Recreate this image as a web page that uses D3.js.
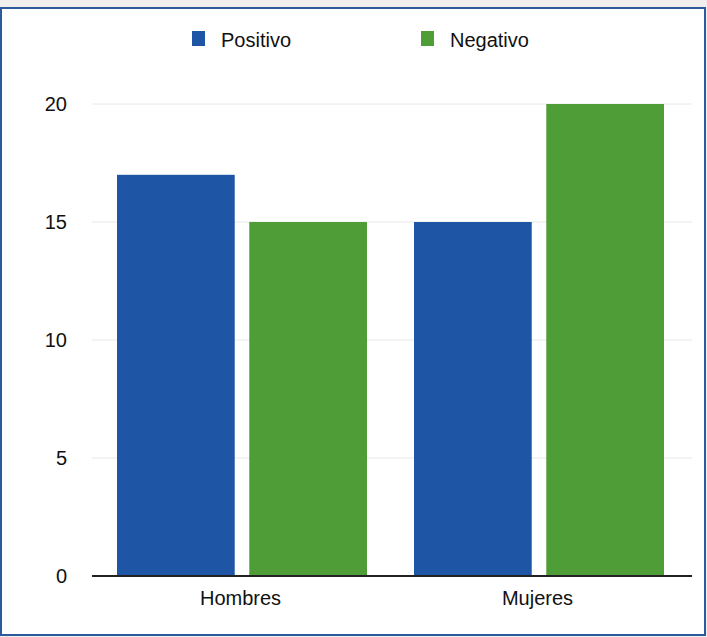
<!DOCTYPE html>
<html>
<head>
<meta charset="utf-8">
<script src="https://cdn.jsdelivr.net/npm/d3@7"></script>
<style>
  body { margin: 0; background: #f0efed; }
  text { font-family: "Liberation Sans", Arial, sans-serif; fill: #111; }
</style>
</head>
<body>
<div id="viz"></div>
<script>
var categories = ["Hombres", "Mujeres"];
var series = ["Positivo", "Negativo"];
var positivo = [17, 15];
var negativo = [15, 20];
var yTicks = [0, 5, 10, 15, 20];
var colors = ["#1f55a5", "#4f9d36"];

var width = 707,
    height = 637;

var svg = d3.select("#viz").append("svg")
    .attr("width", width)
    .attr("height", height);

// frame
svg.append("rect")
    .attr("x", 1).attr("y", 8)
    .attr("width", 704).attr("height", 627)
    .attr("fill", "#fff")
    .attr("stroke", "#2d5a9e")
    .attr("stroke-width", 2);

var plotLeft = 92, plotRight = 692;

var x = d3.scaleBand()
    .domain(categories)
    .range([plotLeft, 686])
    .paddingInner(0)
    .paddingOuter(0);

var y = d3.scaleLinear()
    .domain([0, 20])
    .range([576, 104]);

var x1 = d3.scaleBand()
    .domain(series)
    .range([25, x.bandwidth() - 22])
    .paddingInner(0.11);

// gridlines
svg.append("g").selectAll("line")
    .data(yTicks.filter(function(d) { return d > 0; }))
  .enter().append("line")
    .attr("x1", plotLeft).attr("x2", plotRight)
    .attr("y1", function(d) { return y(d); })
    .attr("y2", function(d) { return y(d); })
    .attr("stroke", "#e8e8e8");

// y labels
var yAxis = svg.append("g")
    .attr("transform", "translate(67,0)")
    .call(d3.axisLeft(y).tickValues(yTicks).tickSize(0).tickPadding(0));
yAxis.select(".domain").remove();
yAxis.selectAll("text")
    .style("font-size", "20px")
    .attr("font-family", null);

var rows = categories.map(function(c, i) {
  return {cat: c, values: [positivo[i], negativo[i]]};
});

svg.append("g").selectAll("g")
    .data(rows)
  .enter().append("g")
    .attr("transform", function(d) { return "translate(" + x(d.cat) + ",0)"; })
  .selectAll("rect")
    .data(function(d) { return d.values.map(function(v, j) { return {s: series[j], v: v, j: j}; }); })
  .enter().append("rect")
    .attr("x", function(d) { return x1(d.s); })
    .attr("width", x1.bandwidth())
    .attr("y", function(d) { return y(d.v); })
    .attr("height", function(d) { return y(0) - y(d.v); })
    .attr("fill", function(d) { return colors[d.j]; });

// x axis
svg.append("line")
    .attr("x1", plotLeft).attr("x2", plotRight)
    .attr("y1", y(0)).attr("y2", y(0))
    .attr("stroke", "#222").attr("stroke-width", 2);
var xAxis = svg.append("g")
    .attr("transform", "translate(0," + y(0) + ")")
    .call(d3.axisBottom(x).tickSize(0).tickPadding(15));
xAxis.select(".domain").remove();
xAxis.selectAll("text")
    .style("font-size", "20px")
    .attr("font-family", null);

// legend
var legendX = [192, 421];
var legend = svg.append("g").selectAll("g")
    .data(series)
  .enter().append("g")
    .attr("transform", function(d, i) { return "translate(" + legendX[i] + ",31)"; });
legend.append("rect")
    .attr("width", 13).attr("height", 15)
    .attr("fill", function(d, i) { return colors[i]; });
legend.append("text")
    .attr("x", 29).attr("y", 16)
    .style("font-size", "20px")
    .text(function(d) { return d; });
</script>
</body>
</html>
